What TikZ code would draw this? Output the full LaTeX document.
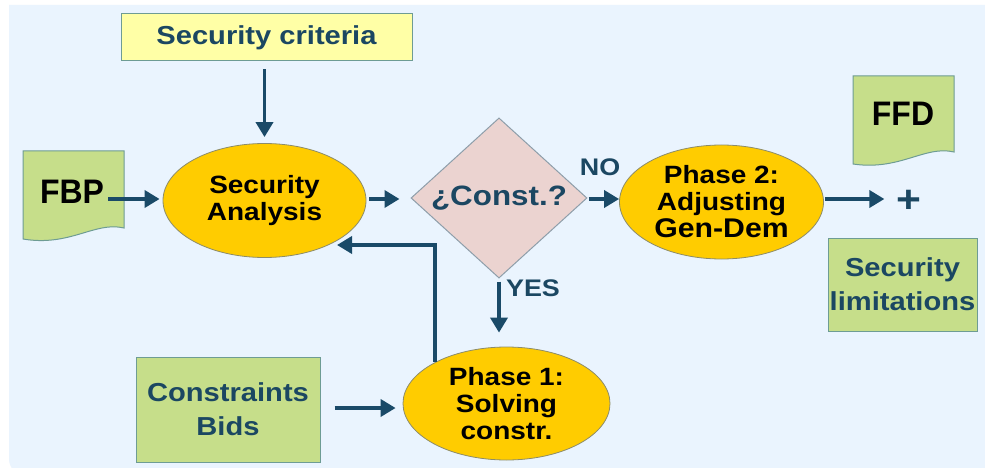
\documentclass[tikz,border=0pt]{standalone}
\usepackage{fontspec}
\setmainfont[FakeStretch=1.12]{Liberation Sans}
\newfontfamily\docfont[FakeStretch=0.94]{Liberation Sans}
\usetikzlibrary{shapes.geometric,arrows.meta,calc}
\definecolor{bgblue}{HTML}{EAF4FE}
\definecolor{teal}{HTML}{1B4762}
\definecolor{arrc}{HTML}{1A4A68}
\definecolor{ellf}{HTML}{FFCC00}
\definecolor{elld}{HTML}{8C8C6A}
\definecolor{yelf}{HTML}{FFFFA6}
\definecolor{grnf}{HTML}{C6DE8A}
\definecolor{boxd}{HTML}{6E9C94}
\definecolor{diaf}{HTML}{EBD3D0}
\definecolor{diad}{HTML}{8E9EAA}
\tikzset{
  arr/.style={draw=arrc, line width=3.6pt, -{Triangle[length=15pt,width=17pt]}},
  ell/.style={ellipse, draw=elld, line width=0.8pt, fill=ellf, inner sep=0pt,
    minimum width=204pt, minimum height=114pt, align=center,
    font=\bfseries\fontsize{25}{27}\selectfont, text=black},
  tbox/.style={rectangle, draw=boxd, line width=1pt, inner sep=0pt, align=center,
    font=\bfseries\fontsize{26}{34}\selectfont, text=teal},
  lbl/.style={font=\bfseries\fontsize{24}{26}\selectfont, text=teal, inner sep=0pt},
  doc/.style={fill=grnf, draw=boxd, line width=1pt},
  doctext/.style={font=\docfont\bfseries\fontsize{34}{34}\selectfont, text=black, inner sep=0pt}
}
\begin{document}
\begin{tikzpicture}[x=1pt,y=-1pt]
\useasboundingbox (0,0) rectangle (985,468);
\fill[white] (-5,-5) rectangle (990,473);
\fill[bgblue] (992,5) -- (9,5) [rounded corners=16pt] -- (9,475) [sharp corners] -- (992,475) -- cycle;

% document shapes
\draw[doc] (23,151) -- (124,151) -- (124,228) .. controls (95,221) and (70,247) .. (23,239) -- cycle;
\node[doctext] (fbp) at (72,192) {FBP};
\draw[doc] (853,76) -- (954,76) -- (954,152) .. controls (925,145) and (900,171) .. (853,164) -- cycle;
\node[doctext] (ffd) at (903,114) {FFD};

% boxes
\node[tbox, fill=yelf, minimum width=291pt, minimum height=47pt] (sc) at (266.5,37.5) {Security criteria};
\node[tbox, fill=grnf, minimum width=184pt, minimum height=105pt] (cb) at (228,409.5) {Constraints\\Bids};
\node[tbox, fill=grnf, minimum width=149pt, minimum height=93pt] (sl) at (902.5,284.5) {Security\\limitations};

% ellipses
\node[ell, minimum width=203pt] (sa) at (264.5,200.5) {Security\\Analysis};
\node[ell] (p2) at (721.5,202) {Phase 2:\\Adjusting\\{\fontsize{27}{27}\selectfont Gen-Dem}};
\node[ell, minimum width=207pt, minimum height=113pt] (p1) at (506.5,403.5) {Phase 1:\\Solving\\constr.};

% diamond
\node[diamond, draw=diad, line width=1pt, fill=diaf, inner sep=0pt, minimum width=176pt, minimum height=128pt,
  font=\bfseries\fontsize{28}{28}\selectfont, text=teal] (dia) at (499,198) {\raisebox{-3pt}{¿Const.?}};

% plus
\node[font=\bfseries\fontsize{38}{38}\selectfont, text=teal, inner sep=0pt] (plus) at (909,201) {+};

% labels
\node[lbl] (no) at (600,167) {NO};
\node[lbl] (yes) at (533,288) {YES};

% connectors
\coordinate (lp) at (337,245);
\draw[arr, shorten <=8pt, shorten >=6pt] (sa.north |- sc.south) -- (sa.north);
\draw[arr, shorten <=4pt, shorten >=3pt] (fbp.east |- 0,199) -- (sa.west |- 0,199);
\draw[arr, shorten <=3pt, shorten >=11pt] (sa.east |- 0,199) -- (dia.west |- 0,199);
\draw[arr, shorten <=1pt] (dia.east |- 0,199) -- (p2.west |- 0,199);
\draw[arr, shorten <=1pt, shorten >=12pt] (p2.east |- 0,199) -- (plus.west |- 0,199);
\draw[arr, shorten <=3pt, shorten >=14pt] (dia.south) -- (dia.south |- p1.north);
\draw[arr, shorten <=14pt, shorten >=7pt] (cb.east |- 0,408) -- (p1.west |- 0,408);
\draw[arr] (p1.150) |- (lp);
\end{tikzpicture}
\end{document}
